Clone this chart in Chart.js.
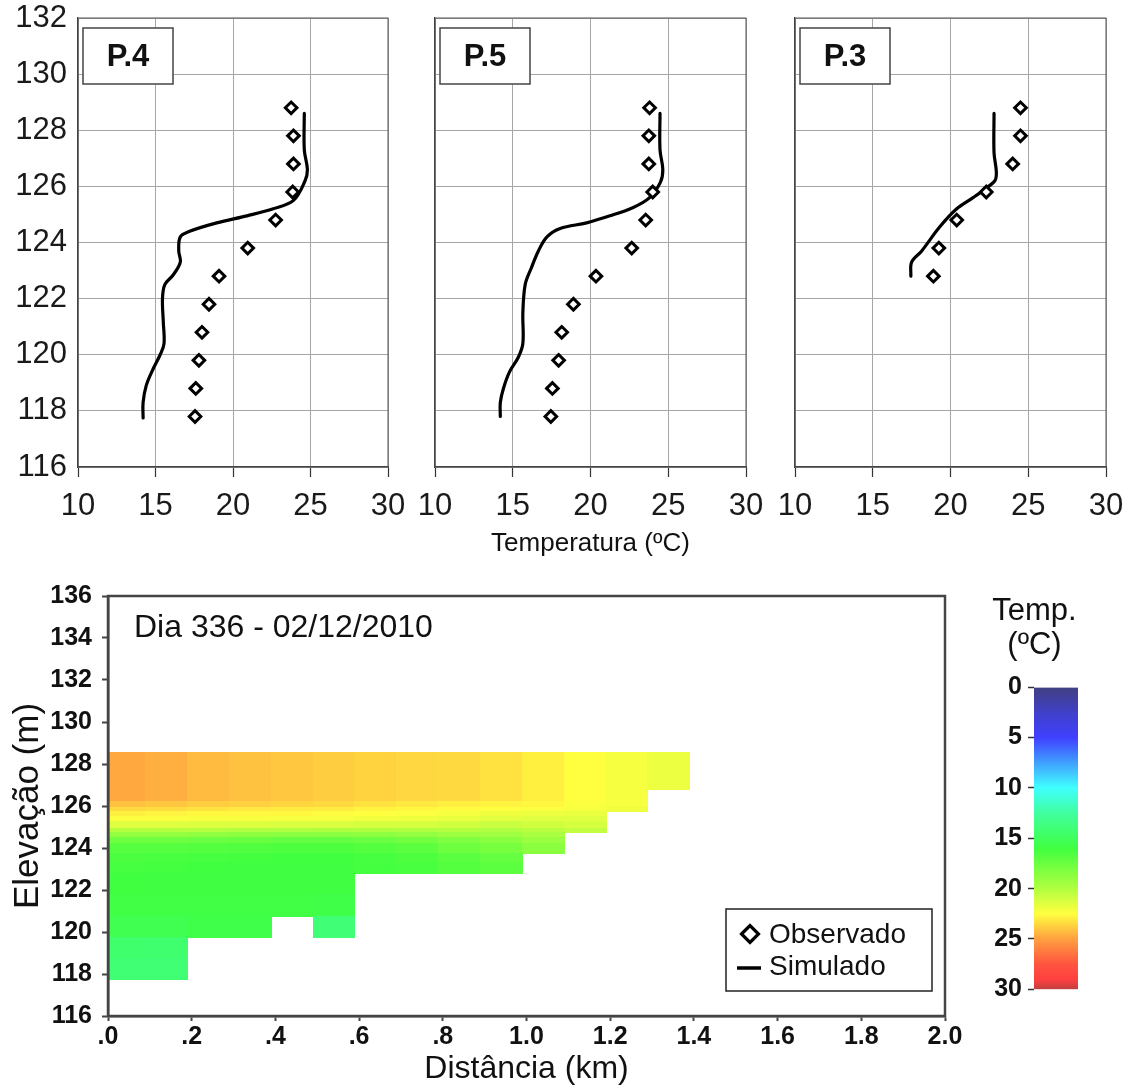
<!DOCTYPE html>
<html>
<head>
<meta charset="utf-8">
<script src="https://cdn.jsdelivr.net/npm/chart.js@4.4.0/dist/chart.umd.min.js"></script>
<style>
  html, body { margin: 0; padding: 0; background: #fff; }
  #pagina { position: relative; width: 1128px; height: 1088px; overflow: hidden; background: #fff; }
  .caixa { position: absolute; }
</style>
</head>
<body>
<div id="pagina">
  <div class="caixa" style="left:0;top:0"><canvas id="p4" width="420" height="560"></canvas></div>
  <div class="caixa" style="left:400px;top:0"><canvas id="p5" width="370" height="560"></canvas></div>
  <div class="caixa" style="left:760px;top:0"><canvas id="p3" width="368" height="560"></canvas></div>
  <div class="caixa" style="left:0;top:580px"><canvas id="secao" width="980" height="508"></canvas></div>
  <div class="caixa" style="left:955px;top:580px"><canvas id="escala" width="140" height="430"></canvas></div>
</div>
<script>
// Perfis verticais: pontos observados (a cada 1 m)
const elevObs = [128.8, 127.8, 126.8, 125.8, 124.8, 123.8, 122.8, 121.8, 120.8, 119.8, 118.8, 117.8];
const p4Obs = [23.75, 23.9, 23.9, 23.85, 22.75, 20.95, 19.1, 18.45, 18.0, 17.8, 17.6, 17.55];
const p5Obs = [23.8, 23.75, 23.75, 24.0, 23.55, 22.65, 20.35, 18.9, 18.15, 17.95, 17.55, 17.45];
const elevObsP3 = [128.8, 127.8, 126.8, 125.8, 124.8, 123.8, 122.8];
const p3Obs = [24.5, 24.5, 24.0, 22.3, 20.4, 19.25, 18.9];

// Perfis simulados
const p4SimElev = [128.6, 127.3, 126.6, 126.2, 125.5, 125.2, 124.95, 124.7, 124.4, 124.2, 123.7, 123.3, 122.85, 122.5, 122.0, 121.2, 120.4, 120.0, 119.5, 118.9, 118.3, 117.75];
const p4SimTemp = [24.6, 24.6, 24.8, 24.65, 23.9, 22.6, 20.9, 18.95, 17.2, 16.6, 16.5, 16.6, 16.15, 15.6, 15.45, 15.5, 15.55, 15.3, 14.85, 14.4, 14.2, 14.2];
const p5SimElev = [128.6, 127.3, 126.6, 126.15, 125.6, 125.25, 124.95, 124.7, 124.5, 124.2, 123.7, 123.1, 122.5, 121.5, 120.4, 119.9, 119.4, 118.8, 118.3, 117.8];
const p5SimTemp = [24.47, 24.47, 24.65, 24.5, 23.8, 22.75, 21.25, 19.75, 18.05, 17.2, 16.65, 16.2, 15.8, 15.65, 15.65, 15.35, 14.8, 14.4, 14.2, 14.2];
const p3SimElev = [128.6, 127.2, 126.5, 126.2, 125.9, 125.6, 125.2, 124.55, 123.7, 123.3, 122.8];
const p3SimTemp = [22.8, 22.8, 22.95, 22.85, 22.2, 21.45, 20.4, 19.3, 18.15, 17.5, 17.45];

// Seção longitudinal (dia 336): limites dos segmentos (km) e das camadas (m)
const segLimites = [0, 0.09, 0.19, 0.29, 0.39, 0.49, 0.59, 0.69, 0.79, 0.89, 0.99, 1.09, 1.19, 1.29, 1.39];
const camLimites = [128.57, 126.78, 126.2, 125.95, 125.75, 125.5, 125.25, 124.95, 124.76, 124.5, 124.2, 123.73, 123.3, 122.78, 121.78, 120.76, 119.73, 118.76, 117.73];
// temperatura (ºC) por camada (linha) e segmento (coluna); null = fundo
const tempSecao = [
  [24.8, 24.6, 24.3, 24.1, 24.0, 23.8, 23.65, 23.55, 23.5, 23.3, 22.9, 22.5, 22.2, 21.9],
  [24.8, 24.6, 24.3, 24.1, 24.0, 23.8, 23.65, 23.55, 23.5, 23.3, 22.9, 22.5, 22.2, null],
  [24.1, 24.0, 23.8, 23.7, 23.6, 23.5, 23.3, 23.1, 22.9, 22.8, 22.7, 22.4, 22.2, null],
  [23.5, 23.4, 23.2, 23.1, 23.0, 23.0, 22.8, 22.7, 22.6, 22.5, 22.4, 22.2, 22.0, null],
  [22.9, 22.8, 22.7, 22.7, 22.7, 22.6, 22.5, 22.4, 22.2, 22.0, 21.9, 21.8, null, null],
  [22.4, 22.4, 22.3, 22.3, 22.2, 22.2, 22.1, 22.0, 21.8, 21.6, 21.5, 21.5, null, null],
  [21.5, 21.5, 21.4, 21.4, 21.3, 21.3, 21.2, 21.2, 21.0, 20.8, 21.0, 21.2, null, null],
  [20.2, 20.2, 20.1, 20.0, 20.0, 19.9, 19.9, 20.0, 20.1, 20.0, 20.3, 20.6, null, null],
  [19.0, 19.0, 18.9, 18.8, 18.7, 18.7, 18.8, 19.0, 19.3, 19.4, 19.8, null, null, null],
  [17.6, 17.6, 17.5, 17.4, 17.3, 17.3, 17.5, 17.8, 18.3, 18.6, 19.2, null, null, null],
  [16.8, 16.8, 16.7, 16.6, 16.5, 16.5, 16.7, 17.0, 17.6, 18.0, 18.6, null, null, null],
  [16.4, 16.3, 16.2, 16.1, 16.0, 16.0, 16.2, 16.5, 16.9, 17.3, null, null, null, null],
  [16.2, 16.1, 16.0, 15.9, 15.9, 15.9, 16.1, 16.3, 16.7, 17.0, null, null, null, null],
  [16.0, 15.9, 15.9, 15.9, 15.9, 15.9, null, null, null, null, null, null, null, null],
  [15.8, 15.8, 15.8, 15.8, 15.8, 15.7, null, null, null, null, null, null, null, null],
  [15.4, 15.4, 15.6, 15.6, null, 14.0, null, null, null, null, null, null, null, null],
  [14.4, 14.3, null, null, null, null, null, null, null, null, null, null, null, null],
  [14.1, 14.1, null, null, null, null, null, null, null, null, null, null, null, null]
];

// Escala de cores (ºC -> rgb)
const escalaTemp = [0, 2.5, 5, 7.5, 10, 12.5, 16, 20, 22.5, 25, 27.5, 29, 30];
const escalaCor = [[64,64,128],[64,64,200],[64,64,255],[64,160,255],[64,255,255],[64,255,160],[64,255,64],[176,255,64],[255,255,64],[255,160,64],[255,85,64],[255,64,64],[192,64,64]];

const FONTE = 'Arial, "Liberation Sans", sans-serif';
Chart.defaults.font.family = FONTE;
Chart.defaults.color = '#111';
Chart.defaults.animation = false;
Chart.defaults.responsive = false;
Chart.defaults.devicePixelRatio = 1;
Chart.defaults.plugins.legend.display = false;
Chart.defaults.plugins.tooltip.enabled = false;

function rgb(c) { return 'rgb(' + c[0] + ',' + c[1] + ',' + c[2] + ')'; }

function corTemp(t) {
  for (let i = 1; i < escalaTemp.length; i++) {
    if (t <= escalaTemp[i]) {
      const f = (t - escalaTemp[i - 1]) / (escalaTemp[i] - escalaTemp[i - 1]);
      const a = escalaCor[i - 1], b = escalaCor[i];
      return rgb(a.map((v, k) => Math.round(v + (b[k] - v) * f)));
    }
  }
  return rgb(escalaCor[escalaCor.length - 1]);
}

// largura/altura fixa do eixo, para a área do gráfico ficar no lugar certo
function fixarEixo(tam) {
  return (scale) => {
    if (scale.isHorizontal()) scale.height = tam; else scale.width = tam;
    scale.paddingLeft = scale.paddingRight = scale.paddingTop = scale.paddingBottom = 0;
  };
}

const moldura = {
  id: 'moldura',
  afterDraw(chart, args, opts) {
    const { ctx, chartArea: a } = chart;
    ctx.save();
    ctx.strokeStyle = opts.color;
    ctx.lineWidth = opts.width;
    ctx.strokeRect(a.left, a.top, a.right - a.left, a.bottom - a.top);
    ctx.restore();
  }
};

const etiqueta = {
  id: 'etiqueta',
  afterDraw(chart, args, opts) {
    const { ctx, chartArea: a } = chart;
    const x = a.left + 5, y = a.top + 10, w = 90, h = 56;
    ctx.save();
    ctx.fillStyle = '#fff';
    ctx.fillRect(x, y, w, h);
    ctx.strokeStyle = '#444';
    ctx.lineWidth = 1.5;
    ctx.strokeRect(x, y, w, h);
    ctx.fillStyle = '#111';
    ctx.font = 'bold 31px ' + FONTE;
    ctx.textAlign = 'center';
    ctx.textBaseline = 'middle';
    ctx.fillText(opts.text, x + w / 2, y + h / 2 + 1);
    ctx.restore();
  }
};

function perfil(id, obsT, obsE, simT, simE, tag, cfg) {
  new Chart(document.getElementById(id), {
    type: 'scatter',
    data: {
      datasets: [
        {
          label: 'Observado',
          data: obsT.map((t, i) => ({ x: t, y: obsE[i] })),
          pointStyle: 'rectRot', pointRadius: 5.8, pointBorderWidth: 3,
          pointBorderColor: '#000', pointBackgroundColor: '#fff'
        },
        {
          label: 'Simulado',
          data: simT.map((t, i) => ({ x: t, y: simE[i] })),
          showLine: true, pointRadius: 0, borderColor: '#000', borderWidth: 3.2,
          tension: 0.35, borderCapStyle: 'round'
        }
      ]
    },
    options: {
      layout: { padding: { left: 0, top: 18, right: cfg.right, bottom: 0 } },
      scales: {
        x: {
          type: 'linear', min: 10, max: 30,
          ticks: { stepSize: 5, font: { size: 31 }, padding: 11, color: '#1a1a1a' },
          grid: { color: '#a6a6a6', lineWidth: 1, tickLength: 10, tickColor: '#333', tickWidth: 1.2 },
          border: { color: '#333', width: 1.2 },
          title: cfg.titulo
            ? { display: true, text: cfg.titulo, font: { size: 26 }, color: '#111', padding: { top: 0, bottom: 1 } }
            : { display: false },
          afterFit: fixarEixo(93)
        },
        y: {
          type: 'linear', min: 116, max: 132,
          ticks: { stepSize: 2, display: cfg.rotulosY, font: { size: 31 }, padding: 11, color: '#1a1a1a' },
          grid: { color: '#a6a6a6', lineWidth: 1, drawTicks: false },
          border: { color: '#333', width: 1.2 },
          afterFit: fixarEixo(cfg.larguraY)
        }
      },
      plugins: { etiqueta: { text: tag }, moldura: { color: '#555', width: 1 } }
    },
    plugins: [moldura, etiqueta]
  });
}

perfil('p4', p4Obs, elevObs, p4SimTemp, p4SimElev, 'P.4', { right: 32, larguraY: 78, rotulosY: true });
perfil('p5', p5Obs, elevObs, p5SimTemp, p5SimElev, 'P.5', { right: 24, larguraY: 35, rotulosY: false, titulo: 'Temperatura (ºC)' });
perfil('p3', p3Obs, elevObsP3, p3SimTemp, p3SimElev, 'P.3', { right: 22, larguraY: 35, rotulosY: false });

// células da seção, desenhadas pelas escalas do gráfico
const mapaTermico = {
  id: 'mapaTermico',
  beforeDraw(chart) {
    const { ctx, scales: { x, y } } = chart;
    ctx.save();
    tempSecao.forEach((linha, r) => {
      const y0 = Math.floor(y.getPixelForValue(camLimites[r]));
      const y1 = Math.ceil(y.getPixelForValue(camLimites[r + 1]));
      linha.forEach((t, c) => {
        if (t === null) return;
        const x0 = Math.floor(x.getPixelForValue(segLimites[c]));
        const x1 = Math.ceil(x.getPixelForValue(segLimites[c + 1]));
        ctx.fillStyle = corTemp(t);
        ctx.fillRect(x0, y0, x1 - x0, y1 - y0);
      });
    });
    ctx.restore();
  }
};

const legendaPerfil = {
  id: 'legendaPerfil',
  afterDraw(chart) {
    const { ctx, chartArea: a } = chart;
    const w = 206, h = 82;
    const bx = a.right - 13 - w, by = a.bottom - 25 - h;
    ctx.save();
    ctx.fillStyle = '#fff';
    ctx.fillRect(bx, by, w, h);
    ctx.strokeStyle = '#222';
    ctx.lineWidth = 1.5;
    ctx.strokeRect(bx, by, w, h);
    ctx.fillStyle = '#fff';
    ctx.strokeStyle = '#000';
    ctx.lineWidth = 3.2;
    Chart.helpers.drawPoint(ctx, { pointStyle: 'rectRot', radius: 8.5, borderWidth: 3.2 }, bx + 24, by + 25);
    ctx.lineWidth = 3.5;
    ctx.beginPath();
    ctx.moveTo(bx + 11, by + 59);
    ctx.lineTo(bx + 35, by + 59);
    ctx.stroke();
    ctx.fillStyle = '#111';
    ctx.font = '28px ' + FONTE;
    ctx.textAlign = 'left';
    ctx.textBaseline = 'middle';
    ctx.fillText('Observado', bx + 43, by + 26);
    ctx.fillText('Simulado', bx + 43, by + 58);
    ctx.restore();
  }
};

const rotuloDia = {
  id: 'rotuloDia',
  afterDraw(chart) {
    const { ctx, chartArea: a } = chart;
    ctx.save();
    ctx.fillStyle = '#111';
    ctx.font = '32px ' + FONTE;
    ctx.textAlign = 'left';
    ctx.textBaseline = 'middle';
    ctx.fillText('Dia 336 - 02/12/2010', a.left + 26, a.top + 32);
    ctx.restore();
  }
};

new Chart(document.getElementById('secao'), {
  type: 'scatter',
  data: { datasets: [] },
  options: {
    layout: { padding: { left: 0, top: 16, right: 35, bottom: 0 } },
    scales: {
      x: {
        type: 'linear', min: 0, max: 2,
        ticks: {
          stepSize: 0.2, font: { size: 25, weight: 'bold' }, padding: 1, color: '#111',
          callback: (v) => v < 1 ? '.' + Math.round(v * 10) : v.toFixed(1)
        },
        grid: { drawOnChartArea: false, tickLength: 5, tickColor: '#444', tickWidth: 2 },
        border: { color: '#444', width: 2.5 },
        title: { display: true, text: 'Distância (km)', font: { size: 32 }, color: '#111', padding: { top: 0, bottom: 0 } },
        afterFit: fixarEixo(72)
      },
      y: {
        type: 'linear', min: 116, max: 136,
        ticks: { stepSize: 2, font: { size: 25, weight: 'bold' }, padding: 10, color: '#111' },
        grid: { drawOnChartArea: false, tickLength: 6, tickColor: '#444', tickWidth: 2 },
        border: { color: '#444', width: 2.5 },
        title: { display: true, text: 'Elevação (m)', font: { size: 35 }, color: '#111', padding: { top: 7, bottom: 0 } },
        afterFit: fixarEixo(108)
      }
    },
    plugins: { moldura: { color: '#444', width: 2.5 } }
  },
  plugins: [mapaTermico, moldura, legendaPerfil, rotuloDia]
});

// barra de cores da escala de temperatura
function gradienteEscala(context) {
  const chart = context.chart;
  if (!chart.chartArea) return 'transparent';
  const y = chart.scales.y;
  const ini = escalaTemp[0], fim = escalaTemp[escalaTemp.length - 1];
  const g = chart.ctx.createLinearGradient(0, y.getPixelForValue(ini), 0, y.getPixelForValue(fim));
  escalaTemp.forEach((t, i) => g.addColorStop((t - ini) / (fim - ini), rgb(escalaCor[i])));
  return g;
}

new Chart(document.getElementById('escala'), {
  type: 'bar',
  data: {
    labels: ['Temp.'],
    datasets: [{
      data: [[escalaTemp[0], escalaTemp[escalaTemp.length - 1]]],
      backgroundColor: gradienteEscala, borderWidth: 0,
      barPercentage: 1, categoryPercentage: 1
    }]
  },
  options: {
    layout: { padding: { left: 36, top: 0, right: 17, bottom: 20.7 } },
    scales: {
      x: { display: false },
      y: {
        min: 0, max: 30, reverse: true,
        ticks: { stepSize: 5, font: { size: 25, weight: 'bold' }, padding: 6, color: '#111' },
        grid: { drawOnChartArea: false, tickLength: 6, tickColor: '#333', tickWidth: 1.5 },
        border: { display: false },
        afterFit: fixarEixo(43)
      }
    },
    plugins: {
      title: {
        display: true, text: ['Temp.', '(ºC)'], color: '#111',
        font: { size: 31, weight: 'normal', lineHeight: 1.075 },
        padding: { top: 15, bottom: 25.6 }
      }
    }
  }
});
</script>
</body>
</html>
